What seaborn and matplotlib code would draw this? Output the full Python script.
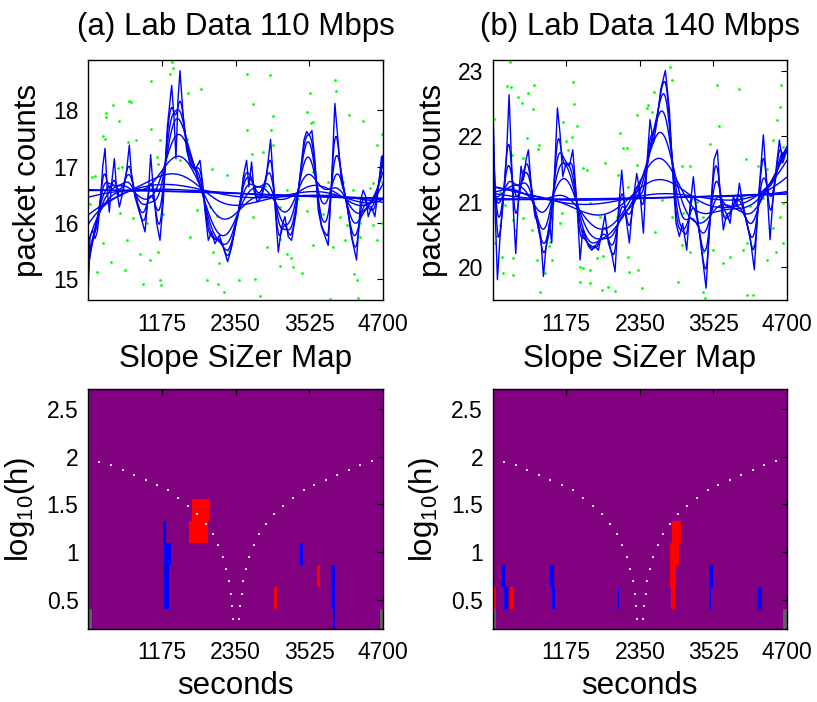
import numpy as np
import matplotlib
matplotlib.use("Agg")
import matplotlib.pyplot as plt
import seaborn as sns

# ---------------- data ----------------
titles = ["(a) Lab Data 110 Mbps", "(b) Lab Data 140 Mbps"]
x_ticks = [1175, 2350, 3525, 4700]

# finest smooth, knots (seconds, packet counts)
a_knot_x = [0, 27, 70, 107, 144, 186, 229, 266, 303, 335, 372, 415, 452, 495, 558, 611, 654, 691,
            744, 824, 904, 957, 994, 1037, 1090, 1143, 1196, 1260, 1329, 1366, 1398, 1430, 1462,
            1514, 1568, 1621, 1701, 1781, 1823, 1860, 1913, 1966, 2020, 2089, 2153, 2221, 2285,
            2354, 2418, 2471, 2524, 2561, 2604, 2641, 2694, 2763, 2833, 2907, 2960, 3030, 3083,
            3136, 3189, 3242, 3311, 3375, 3439, 3481, 3523, 3566, 3614, 3667, 3720, 3826, 3879,
            3932, 3986, 4039, 4119, 4198, 4278, 4342, 4384, 4427, 4464, 4517, 4570, 4623, 4676, 4700]
a_knot_y = [14.83, 15.75, 15.87, 15.72, 15.84, 16.28, 16.99, 17.32, 16.58, 16.19, 16.70, 17.14, 16.58,
            16.28, 16.58, 16.93, 17.38, 16.82, 16.46, 16.16, 15.84, 16.52, 17.21, 16.58, 15.99, 15.69,
            16.40, 17.70, 18.44, 17.88, 17.14, 18.18, 18.70, 17.88, 17.29, 17.05, 16.93, 17.11, 16.70,
            16.22, 15.69, 15.84, 15.63, 15.78, 15.57, 15.31, 15.57, 15.99, 16.28, 16.82, 17.11, 16.64,
            17.08, 16.58, 16.37, 16.46, 16.76, 17.48, 16.58, 15.48, 15.93, 16.11, 15.75, 15.69, 16.16,
            16.82, 17.47, 17.62, 17.56, 17.64, 17.11, 16.22, 15.93, 15.60, 16.70, 18.12, 17.41, 16.70,
            16.40, 15.75, 15.34, 16.40, 16.58, 16.46, 16.11, 16.28, 16.11, 16.58, 17.18, 17.05]

b_knot_x = [0, 32, 75, 117, 170, 224, 261, 293, 330, 367, 410, 452, 490, 532, 570, 623, 676, 729,
            767, 809, 852, 905, 942, 985, 1033, 1075, 1118, 1171, 1224, 1278, 1320, 1357, 1395, 1437,
            1474, 1528, 1581, 1634, 1687, 1741, 1794, 1847, 1900, 1954, 2007, 2060, 2113, 2182, 2236,
            2300, 2353, 2406, 2459, 2512, 2566, 2619, 2683, 2757, 2821, 2874, 2928, 2981, 3034, 3098,
            3151, 3204, 3258, 3322, 3407, 3471, 3534, 3588, 3630, 3683, 3737, 3790, 3843, 3896, 3939,
            3992, 4045, 4109, 4178, 4242, 4322, 4375, 4429, 4482, 4578, 4631, 4700]
b_knot_y = [22.73, 21.03, 19.81, 20.47, 21.03, 21.79, 22.63, 21.79, 20.87, 20.21, 21.03, 21.54, 21.33,
            21.64, 21.79, 21.13, 20.77, 20.67, 20.47, 19.86, 20.32, 20.67, 20.37, 21.38, 22.43, 22.04,
            21.38, 21.59, 21.54, 21.79, 21.28, 20.77, 20.11, 20.57, 20.47, 20.32, 20.26, 20.32, 20.26,
            20.52, 20.80, 20.37, 20.21, 19.93, 20.87, 21.48, 20.87, 20.37, 20.98, 21.43, 21.13, 20.52,
            21.54, 22.25, 21.89, 22.20, 22.71, 23.00, 22.40, 21.43, 20.67, 20.47, 20.67, 20.26, 20.93,
            21.38, 20.82, 20.37, 19.68, 20.77, 21.64, 21.79, 21.13, 20.57, 20.82, 20.67, 21.08, 20.93,
            21.28, 20.98, 20.72, 20.47, 19.96, 21.03, 22.02, 21.28, 20.42, 21.13, 21.94, 21.59, 21.79]

# raw counts (green dots)
a_dot_x = [1329, 1302, 1345, 994, 2524, 2896, 649, 675, 399, 277, 282, 495, 999, 240, 266, 638, 760,
           1143, 1568, 1796, 1594, 2630, 3534, 3948, 3932, 3587, 3550, 3481, 4161, 4384, 4597, 4676,
           2949, 2524, 2912, 2779, 2604, 2949, 54, 107, 532, 479, 1090, 1106, 1462, 1966, 2205, 2763,
           2816, 3162, 3348, 3587, 3826, 4066, 4225, 4490, 4543, 4676, 27, 505, 718, 930, 1196, 1727,
           1940, 2046, 2365, 2630, 3055, 3268, 3481, 3746, 4012, 4119, 4331, 4543, 4690, 229, 611,
           824, 983, 1116, 1621, 1993, 2089, 2232, 2843, 3055, 3162, 3226, 3268, 3587, 3906, 4092,
           4331, 4597, 133, 356, 585, 877, 1143, 1154, 1897, 2073, 2168, 2407, 2657, 2737, 3055,
           3401, 3853, 4235, 4288, 4304]
a_dot_y = [18.86, 18.65, 18.74, 18.52, 18.65, 18.62, 18.17, 18.15, 18.09, 17.95, 17.88, 17.80, 17.66,
           17.54, 17.48, 17.44, 17.47, 17.47, 17.48, 18.38, 18.31, 18.11, 18.31, 18.34, 18.54, 17.79,
           17.78, 17.97, 17.91, 17.80, 17.39, 17.57, 17.90, 17.64, 17.64, 17.26, 17.23, 17.38, 16.82,
           16.83, 16.99, 16.98, 17.17, 17.05, 17.11, 16.96, 16.85, 16.62, 16.65, 16.58, 16.43, 16.90,
           16.73, 16.73, 16.59, 16.61, 16.70, 16.73, 16.34, 16.18, 16.08, 15.99, 16.15, 16.22, 16.28,
           16.13, 16.10, 16.10, 16.28, 15.99, 16.21, 16.16, 16.11, 15.96, 15.99, 15.96, 15.99, 15.65,
           15.69, 15.45, 15.34, 15.48, 15.75, 15.48, 15.28, 15.51, 15.57, 15.72, 15.45, 15.37, 15.22,
           15.60, 15.57, 15.69, 15.75, 15.69, 15.13, 15.30, 15.16, 14.91, 14.98, 14.89, 14.99, 14.92,
           14.77, 14.98, 15.01, 14.71, 15.23, 15.11, 14.65, 15.09, 14.99, 14.67]

b_dot_x = [277, 234, 287, 665, 1278, 570, 649, 463, 410, 21, 1299, 1118, 1352, 1262, 1171, 1208, 554,
           745, 729, 303, 490, 213, 2486, 2300, 2550, 2459, 2858, 2832, 2576, 3577, 3939, 4599, 4588,
           4546, 3620, 3471, 3151, 3018, 4045, 4242, 4375, 4482, 4642, 2033, 2087, 2140, 2007, 2300,
           2166, 2699, 1501, 1448, 1794, 1352, 1102, 969, 1075, 197, 117, 490, 330, 357, 633, 916,
           916, 905, 1554, 1714, 1448, 1554, 1980, 2592, 2858, 3045, 3258, 3364, 3683, 3896, 4003,
           4109, 4322, 4631, 4588, 4482, 117, 64, 37, 144, 319, 703, 942, 836, 1395, 1448, 1554, 1661,
           1767, 1927, 2166, 2326, 3018, 3151, 3364, 3524, 3683, 3790, 4003, 4056, 4162, 4375, 4524,
           4642, 170, 330, 756, 1395, 1554, 1741, 1847, 1954, 2182, 2379, 2965, 3364, 3391, 4056, 4162]
b_dot_y = [23.13, 22.77, 22.75, 22.78, 22.83, 22.65, 22.41, 22.50, 22.60, 22.26, 22.49, 22.22, 22.16,
           21.98, 21.92, 21.79, 21.97, 21.87, 21.80, 21.71, 21.66, 21.56, 22.48, 22.32, 22.37, 22.43,
           22.86, 23.06, 22.67, 22.78, 22.72, 22.78, 22.44, 22.24, 22.16, 21.88, 21.54, 21.55, 21.65,
           21.54, 21.50, 21.94, 21.84, 22.04, 21.82, 21.82, 21.41, 21.56, 21.23, 21.03, 21.48, 21.51,
           21.59, 20.95, 20.82, 20.98, 20.67, 20.95, 21.15, 20.75, 20.72, 20.57, 20.57, 20.57, 20.39,
           20.32, 20.98, 20.77, 20.49, 20.34, 20.77, 20.54, 20.77, 20.82, 21.00, 20.77, 20.80, 20.93,
           21.08, 20.94, 21.05, 20.98, 20.77, 20.60, 20.65, 20.47, 20.37, 20.16, 20.14, 20.11, 20.11,
           19.91, 20.01, 19.99, 19.96, 20.14, 20.17, 20.21, 20.16, 19.96, 20.34, 20.24, 20.24, 20.26,
           20.06, 20.16, 20.26, 20.37, 20.32, 20.11, 20.24, 20.37, 19.91, 19.88, 19.63, 19.78, 19.76,
           19.65, 19.70, 19.64, 19.93, 19.68, 19.78, 19.63, 19.53, 19.58, 19.58]

# extra smoothing applied to the finest curve for the rest of the family (seconds)
bandwidths = [45, 70, 110, 170, 280, 450, 750, 1300, 2300, 4500]
eval_step = 10  # seconds between evaluations of each smooth

# SiZer map: log10(h) rows and significant cells
h_edges = [0.175, 0.405, 0.636, 0.867, 1.097, 1.328, 1.558, 1.789, 2.019, 2.25, 2.48, 2.71]
a_cell_x0 = [1656, 1605, 1191, 1207, 1207, 1212, 8, 3375, 3640, 3869, 3880, 3906, 2960, 4655]
a_cell_x1 = [1943, 1903, 1239, 1318, 1281, 1281, 60, 3428, 3688, 3928, 3938, 3928, 3003, 4700]
a_cell_row = [5, 4, 4, 3, 2, 1, 0, 3, 2, 2, 1, 0, 1, 0]
a_cell_kind = ["inc", "inc", "dec", "dec", "dec", "dec", "sparse", "dec", "inc", "dec", "dec",
               "dec", "inc", "sparse"]
b_cell_x0 = [8, 8, 149, 176, 281, 910, 947, 1996, 2862, 2830, 2825, 2846, 3460, 3455, 4240, 4640]
b_cell_x1 = [53, 58, 202, 240, 335, 979, 995, 2022, 3010, 2973, 2926, 2915, 3513, 3481, 4294, 4695]
b_cell_row = [1, 0, 2, 1, 1, 2, 1, 1, 4, 3, 2, 1, 2, 1, 1, 0]
b_cell_kind = ["inc", "sparse", "dec", "dec", "inc", "dec", "dec", "dec", "inc", "inc", "inc",
               "inc", "dec", "dec", "dec", "sparse"]

# white dotted guide in the map
guide_x = [176, 367, 553, 734, 920, 1100, 1276, 1435, 1594, 1738, 1871, 1982, 2067, 2142, 2195,
           2237, 2269, 2290, 2312, 2402, 2418, 2444, 2471, 2513, 2561, 2636, 2721, 2833, 2966,
           3110, 3268, 3433, 3602, 3783, 3969, 4150, 4336, 4527]
guide_y = [1.944, 1.909, 1.864, 1.808, 1.759, 1.706, 1.650, 1.570, 1.486, 1.395, 1.297, 1.189,
           1.070, 0.948, 0.822, 0.696, 0.566, 0.433, 0.304, 0.304, 0.433, 0.566, 0.696, 0.822,
           0.948, 1.070, 1.189, 1.297, 1.395, 1.486, 1.570, 1.650, 1.706, 1.759, 1.808, 1.864,
           1.909, 1.951]

kind_colors = {"inc": "#ff0000", "dec": "#0000ff", "sparse": "#606060"}


def loclin(x, y, s, grid):
    # local linear (gaussian kernel) smooth of the knot curve
    x = np.asarray(x, float)
    y = np.asarray(y, float)
    dx = np.gradient(x)
    out = np.empty(len(grid))
    for i, x0 in enumerate(grid):
        d = x - x0
        w = np.exp(-0.5 * (d / s) ** 2) * dx
        s0, s1, s2 = w.sum(), (w * d).sum(), (w * d * d).sum()
        t0, t1 = (w * y).sum(), (w * d * y).sum()
        den = s0 * s2 - s1 ** 2
        out[i] = (s2 * t0 - s1 * t1) / den if den > 1e-6 * s0 * s2 else t0 / s0
    return out


sns.set_theme(style="white")
plt.rcParams["font.family"] = ["Liberation Sans", "DejaVu Sans"]
plt.rcParams["mathtext.fontset"] = "custom"
plt.rcParams["mathtext.rm"] = "Liberation Sans"
plt.rcParams["mathtext.it"] = "Liberation Sans"
for key in ["text.color", "axes.labelcolor", "xtick.color", "ytick.color", "axes.edgecolor"]:
    plt.rcParams[key] = "black"

BIG = 22.5
SMALL = 16.5

fig = plt.figure(figsize=(8.17, 7.02), dpi=100)
lefts = [0.1081, 0.6031]
widths = [0.3607, 0.3602]

panels = [
    (a_knot_x, a_knot_y, a_dot_x, a_dot_y, (14.63, 18.89), [15, 16, 17, 18],
     a_cell_x0, a_cell_x1, a_cell_row, a_cell_kind),
    (b_knot_x, b_knot_y, b_dot_x, b_dot_y, (19.5, 23.16), [20, 21, 22, 23],
     b_cell_x0, b_cell_x1, b_cell_row, b_cell_kind),
]


def style_axes(ax):
    ax.tick_params(direction="in", top=True, right=True, length=4, width=0.8,
                   labelsize=SMALL, colors="black")
    ax.tick_params(axis="x", pad=9)
    ax.tick_params(axis="y", pad=7)
    for sp in ax.spines.values():
        sp.set_visible(True)
        sp.set_color("black")
        sp.set_linewidth(1.0)
    ax.set_xlim(0, 4700)
    ax.set_xticks(x_ticks)
    ax.set_xticklabels([str(t) for t in x_ticks])


for i, (kx, ky, dx_, dy_, ylim, yt, cx0, cx1, crow, ckind) in enumerate(panels):
    # ---- family of smooths ----
    ax = fig.add_axes([lefts[i], 0.5726, widths[i], 0.3419])
    sns.scatterplot(x=dx_, y=dy_, ax=ax, color="#00ff00", s=4, linewidth=0, zorder=1)
    sns.lineplot(x=kx, y=ky, ax=ax, color="#0000ff", lw=1.0, sort=False, zorder=2)
    grid = np.arange(kx[0], kx[-1] + 1, eval_step)
    for s in bandwidths:
        sns.lineplot(x=grid, y=loclin(kx, ky, s, grid), ax=ax, color="#0000ff", lw=1.0,
                     sort=False, zorder=2)
    style_axes(ax)
    ax.set_ylim(*ylim)
    ax.set_yticks(yt)
    ax.set_yticklabels([str(t) for t in yt])
    ax.set_title(titles[i], fontsize=BIG, pad=18)
    ax.set_ylabel("packet counts", fontsize=BIG, labelpad=7)

    # ---- slope SiZer map ----
    ax2 = fig.add_axes([lefts[i], 0.104, widths[i], 0.3419])
    ax2.set_facecolor("#800080")
    for x0, x1, r, k in zip(cx0, cx1, crow, ckind):
        ax2.bar(x0, h_edges[r + 1] - h_edges[r], width=x1 - x0, bottom=h_edges[r],
                align="edge", color=kind_colors[k], linewidth=0, zorder=2)
    ax2.plot(guide_x, guide_y, ls="none", marker="s", ms=1.5, mew=0,
             color="#f4e4f4", zorder=3)
    style_axes(ax2)
    ax2.set_ylim(0.195, 2.71)
    ax2.set_yticks([0.5, 1, 1.5, 2, 2.5])
    ax2.set_yticklabels(["0.5", "1", "1.5", "2", "2.5"])
    ax2.set_title("Slope SiZer Map", fontsize=BIG, pad=16)
    ax2.set_ylabel(r"log$_{10}$(h)", fontsize=BIG, labelpad=7)
    ax2.set_xlabel("seconds", fontsize=BIG, labelpad=5)

fig.savefig("out.png", dpi=100)
